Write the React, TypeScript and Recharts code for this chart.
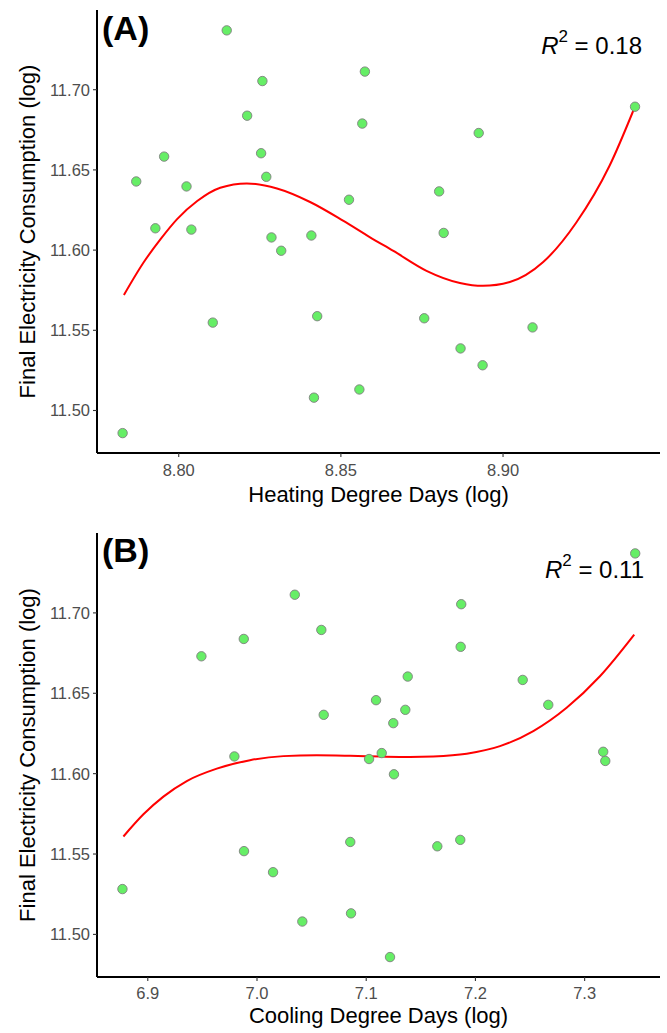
import React from 'react';
import { ComposedChart, Scatter, Line, XAxis, YAxis } from 'recharts';

// Observations (sorted by consumption); same consumption values in both panels
const consumption = [
  11.7370, 11.7113, 11.7054, 11.6894, 11.6838, 11.6789, 11.6730, 11.6604, 11.6583, 11.6457,
  11.6428, 11.6397, 11.6366, 11.6314, 11.6136, 11.6128, 11.6107, 11.6091, 11.6079, 11.5996,
  11.5588, 11.5575, 11.5548, 11.5518, 11.5387, 11.5282, 11.5131, 11.5080, 11.4859,
];
const heatingDD = [
  8.8148, 8.8574, 8.8258, 8.9407, 8.8211, 8.8566, 8.8925, 8.8254, 8.7955, 8.8270,
  8.7869, 8.8024, 8.8803, 8.8525, 8.7928, 8.8039, 8.8817, 8.8409, 8.8286, 8.8316,
  8.8427, 8.8757, 8.8105, 8.9091, 8.8869, 8.8937, 8.8557, 8.8417, 8.7827,
];
const coolingDD = [
  7.3463, 7.0346, 7.1870, 7.0589, 6.9879, 7.1865, 6.9491, 7.1380, 7.2433, 7.1090,
  7.2667, 7.1358, 7.0611, 7.1248, 7.3170, 7.1142, 6.9793, 7.1026, 7.3189, 7.1254,
  7.1861, 7.0854, 7.1651, 6.9881, 7.0147, 6.8768, 7.0861, 7.0415, 7.1218,
];

// Fitted curves
const heatFitX = [
  8.7831, 8.7892, 8.7944, 8.7995, 8.8057, 8.8128, 8.8210, 8.8303, 8.8405, 8.8508,
  8.8590, 8.8662, 8.8764, 8.8867, 8.8938, 8.9021, 8.9123, 8.9226, 8.9328, 8.9405,
];
const heatFitY = [
  11.5720, 11.5924, 11.6068, 11.6193, 11.6306, 11.6389, 11.6416, 11.6384, 11.6300, 11.6182,
  11.6080, 11.5995, 11.5871, 11.5795, 11.5777, 11.5801, 11.5924, 11.6172, 11.6524, 11.6886,
];
const coolFitX = [
  6.8777, 6.8960, 6.9143, 6.9357, 6.9632, 6.9936, 7.0241, 7.0547, 7.0852, 7.1157,
  7.1401, 7.1614, 7.1920, 7.2225, 7.2530, 7.2835, 7.3140, 7.3454,
];
const coolFitY = [
  11.5609, 11.5747, 11.5857, 11.5954, 11.6031, 11.6084, 11.6109, 11.6114, 11.6111, 11.6106,
  11.6104, 11.6107, 11.6124, 11.6171, 11.6265, 11.6410, 11.6606, 11.6865,
];

const yTicks = [11.5, 11.55, 11.6, 11.65, 11.7];
const heatTicks = [8.8, 8.85, 8.9];
const coolTicks = [6.9, 7.0, 7.1, 7.2, 7.3];

const FONT = '"Liberation Sans", Arial, Helvetica, sans-serif';

const obsHeat = heatingDD.map((x, i) => ({ x, y: consumption[i] }));
const obsCool = coolingDD.map((x, i) => ({ x, y: consumption[i] }));
const fitHeat = heatFitX.map((x, i) => ({ x, y: heatFitY[i] }));
const fitCool = coolFitX.map((x, i) => ({ x, y: coolFitY[i] }));

const Dot = (props: any) => (
  <circle cx={props.cx} cy={props.cy} r={4.7} fill="#66EE66" stroke="#7F7F7F" strokeWidth={0.9} />
);

const tickStyle = { fill: '#4D4D4D', fontSize: 16.5, fontFamily: FONT };

function Panel(props: {
  obs: any[];
  fit: any[];
  xDomain: [number, number];
  xTicks: number[];
  xDigits: number;
  height: number;
  top: number;
  xAxisHeight: number;
  tickMarginX: number;
}) {
  return (
    <ComposedChart
      width={667}
      height={props.height}
      margin={{ top: props.top, right: 7, bottom: 0, left: 0 }}
    >
      <XAxis
        type="number"
        dataKey="x"
        domain={props.xDomain}
        ticks={props.xTicks}
        allowDataOverflow
        height={props.xAxisHeight}
        tickFormatter={(v: number) => v.toFixed(props.xDigits)}
        tick={tickStyle}
        tickSize={4}
        tickMargin={props.tickMarginX}
        tickLine={{ stroke: '#333333', strokeWidth: 1.1 }}
        axisLine={{ stroke: '#000000', strokeWidth: 2 }}
      />
      <YAxis
        type="number"
        dataKey="y"
        domain={[11.4735, 11.7497]}
        ticks={yTicks}
        allowDataOverflow
        width={97}
        tickFormatter={(v: number) => v.toFixed(2)}
        tick={tickStyle}
        tickSize={4}
        tickMargin={3}
        tickLine={{ stroke: '#333333', strokeWidth: 1.1 }}
        axisLine={{ stroke: '#000000', strokeWidth: 2 }}
      />
      <Scatter data={props.obs} dataKey="y" shape={Dot} isAnimationActive={false} />
      <Line
        data={props.fit}
        dataKey="y"
        type="monotone"
        stroke="#FF0000"
        strokeWidth={2}
        dot={false}
        activeDot={false}
        isAnimationActive={false}
      />
    </ComposedChart>
  );
}

export default function App() {
  return (
    <div style={{ position: 'absolute', left: 0, top: 0, width: 667, height: 1033, background: '#fff' }}>
      <div style={{ position: 'absolute', left: 0, top: 0 }}>
        <Panel
          obs={obsHeat}
          fit={fitHeat}
          xDomain={[8.7748, 8.9484]}
          xTicks={heatTicks}
          xDigits={2}
          height={516}
          top={10}
          xAxisHeight={63}
          tickMarginX={7}
        />
      </div>
      <div style={{ position: 'absolute', left: 0, top: 520 }}>
        <Panel
          obs={obsCool}
          fit={fitCool}
          xDomain={[6.8535, 7.369]}
          xTicks={coolTicks}
          xDigits={1}
          height={513}
          top={13}
          xAxisHeight={56}
          tickMarginX={6}
        />
      </div>
      <svg
        width={667}
        height={1033}
        style={{ position: 'absolute', left: 0, top: 0, pointerEvents: 'none' }}
        fontFamily={FONT}
      >
        <text x={102} y={40} fontSize={34} fontWeight="bold" fill="#000">(A)</text>
        <text x={102} y={562} fontSize={34} fontWeight="bold" fill="#000">(B)</text>

        <text x={642} y={53.5} fontSize={24} textAnchor="end" fill="#000">
          <tspan fontStyle="italic">R</tspan>
          <tspan dy={-11.6} fontSize={17}>2</tspan>
          <tspan dy={11.6}> = 0.18</tspan>
        </text>
        <text x={644} y={577.5} fontSize={24} textAnchor="end" fill="#000">
          <tspan fontStyle="italic">R</tspan>
          <tspan dy={-11.6} fontSize={17}>2</tspan>
          <tspan dy={11.6}> = 0.11</tspan>
        </text>

        <text x={378.5} y={502} fontSize={22} textAnchor="middle" fill="#000">Heating Degree Days (log)</text>
        <text x={378.5} y={1023} fontSize={22} textAnchor="middle" fill="#000">Cooling Degree Days (log)</text>

        <text transform="translate(35, 231.5) rotate(-90)" fontSize={22} textAnchor="middle" fill="#000">
          Final Electricity Consumption (log)
        </text>
        <text transform="translate(35, 755) rotate(-90)" fontSize={22} textAnchor="middle" fill="#000">
          Final Electricity Consumption (log)
        </text>
      </svg>
    </div>
  );
}
